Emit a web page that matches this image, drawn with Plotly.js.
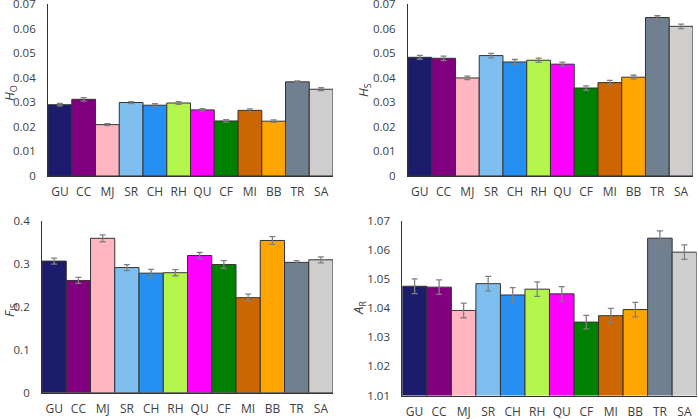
<!DOCTYPE html>
<html>
<head>
<meta charset="utf-8">
<script src="https://cdn.plot.ly/plotly-3.0.1.min.js"></script>
<style>html,body{margin:0;padding:0;background:#fff;}#chart{width:698px;height:419px;}</style>
</head>
<body>
<div id="chart"></div>
<script>
const categories = ["GU","CC","MJ","SR","CH","RH","QU","CF","MI","BB","TR","SA"];
const barColors = ["#1c1c6c","#800080","#ffb6c1","#7ebfef","#2690f2","#b3f54a","#ff00ff","#008000","#cc6600","#ffa500","#708090","#d0cdcd"];

const hoVals = [0.0290,0.0312,0.0209,0.0299,0.0288,0.0297,0.0269,0.0224,0.0267,0.0223,0.0383,0.0353];
const hoErr  = [0.0005,0.0007,0.0004,0.0004,0.0006,0.0005,0.0005,0.0005,0.0006,0.0005,0.0004,0.0006];

const hsVals = [0.0483,0.0479,0.0399,0.0490,0.0464,0.0471,0.0455,0.0358,0.0380,0.0402,0.0645,0.0609];
const hsErr  = [0.0008,0.0009,0.0007,0.0009,0.0010,0.0009,0.0008,0.0009,0.0009,0.0008,0.0007,0.0009];

const fisVals = [0.306,0.261,0.359,0.291,0.278,0.279,0.319,0.298,0.221,0.354,0.303,0.309];
const fisErr  = [0.007,0.007,0.008,0.007,0.009,0.007,0.007,0.009,0.008,0.009,0.004,0.007];

const arVals = [1.0475,1.0472,1.0392,1.0484,1.0445,1.0465,1.0449,1.0352,1.0374,1.0395,1.0640,1.0592];
const arErr  = [0.0025,0.0025,0.0025,0.0025,0.0025,0.0025,0.0025,0.0023,0.0025,0.0025,0.0025,0.0025];

function barTrace(vals, errs, xa, ya) {
  return {
    type: "bar", x: categories, y: vals, xaxis: xa, yaxis: ya,
    marker: {color: barColors, line: {color: "#333333", width: 1}},
    error_y: {type: "data", array: errs, visible: true, color: "#808080", thickness: 1.3, width: 3},
    hoverinfo: "x+y", showlegend: false
  };
}

const data = [
  barTrace(hoVals, hoErr, "x", "y"),
  barTrace(hsVals, hsErr, "x2", "y2"),
  barTrace(fisVals, fisErr, "x3", "y3"),
  barTrace(arVals, arErr, "x4", "y4")
];

const tickFont = {family: "Open Sans, Liberation Sans, sans-serif", size: 11.5, color: "#404040"};
const catFont = {family: "Open Sans, Liberation Sans, sans-serif", size: 12, color: "#404040"};

function xAxis(domain, anchor) {
  return {domain: domain, anchor: anchor, type: "category", range: [-0.5, 11.5],
    showline: true, linecolor: "#333333", linewidth: 1, showgrid: false, zeroline: false,
    ticks: "", tickfont: catFont, ticklabelstandoff: 5, ticklabeloverflow: "allow", fixedrange: true};
}
function yAxis(domain, anchor, range, dtick, fmt) {
  return {domain: domain, anchor: anchor, range: range, dtick: dtick, tick0: range[0],
    tickformat: fmt, showline: true, linecolor: "#333333", linewidth: 1,
    showgrid: false, zeroline: false, ticks: "", tickfont: tickFont, ticklabelstandoff: 9,
    ticklabeloverflow: "allow", fixedrange: true};
}

const titleFont = {family: "Open Sans, Liberation Sans, sans-serif", size: 13, color: "#404040"};

const layout = {
  width: 698, height: 419,
  margin: {l: 0, r: 0, t: 0, b: 0},
  paper_bgcolor: "#ffffff", plot_bgcolor: "#ffffff",
  bargap: 0,
  xaxis: xAxis([0.0688, 0.4771], "y"),
  yaxis: yAxis([0.5800, 0.9905], "x", [0, 0.0700001], 0.01, ""),
  xaxis2: xAxis([0.5845, 0.9928], "y2"),
  yaxis2: yAxis([0.5800, 0.9905], "x2", [0, 0.0700001], 0.01, ""),
  xaxis3: xAxis([0.0602, 0.4771], "y3"),
  yaxis3: yAxis([0.0628, 0.4733], "x3", [0, 0.4000001], 0.1, ""),
  xaxis4: xAxis([0.5764, 0.9981], "y4"),
  yaxis4: yAxis([0.0560, 0.4733], "x4", [1.01, 1.0700001], 0.01, ".2f"),
  annotations: [
    {text: "<i>H</i><sub>O</sub>", x: 10/698, y: 1-93/419, xanchor: "center", yanchor: "middle", xref: "paper", yref: "paper", showarrow: false, textangle: -90, font: titleFont},
    {text: "<i>H</i><sub>S</sub>", x: 364/698, y: 1-90/419, xanchor: "center", yanchor: "middle", xref: "paper", yref: "paper", showarrow: false, textangle: -90, font: titleFont},
    {text: "<i>F</i><sub>IS</sub>", x: 10/698, y: 1-310/419, xanchor: "center", yanchor: "middle", xref: "paper", yref: "paper", showarrow: false, textangle: -90, font: titleFont},
    {text: "<i>A</i><sub>R</sub>", x: 359/698, y: 1-308/419, xanchor: "center", yanchor: "middle", xref: "paper", yref: "paper", showarrow: false, textangle: -90, font: titleFont}
  ]
};

Plotly.newPlot("chart", data, layout, {displayModeBar: false, staticPlot: true});
</script>
</body>
</html>
